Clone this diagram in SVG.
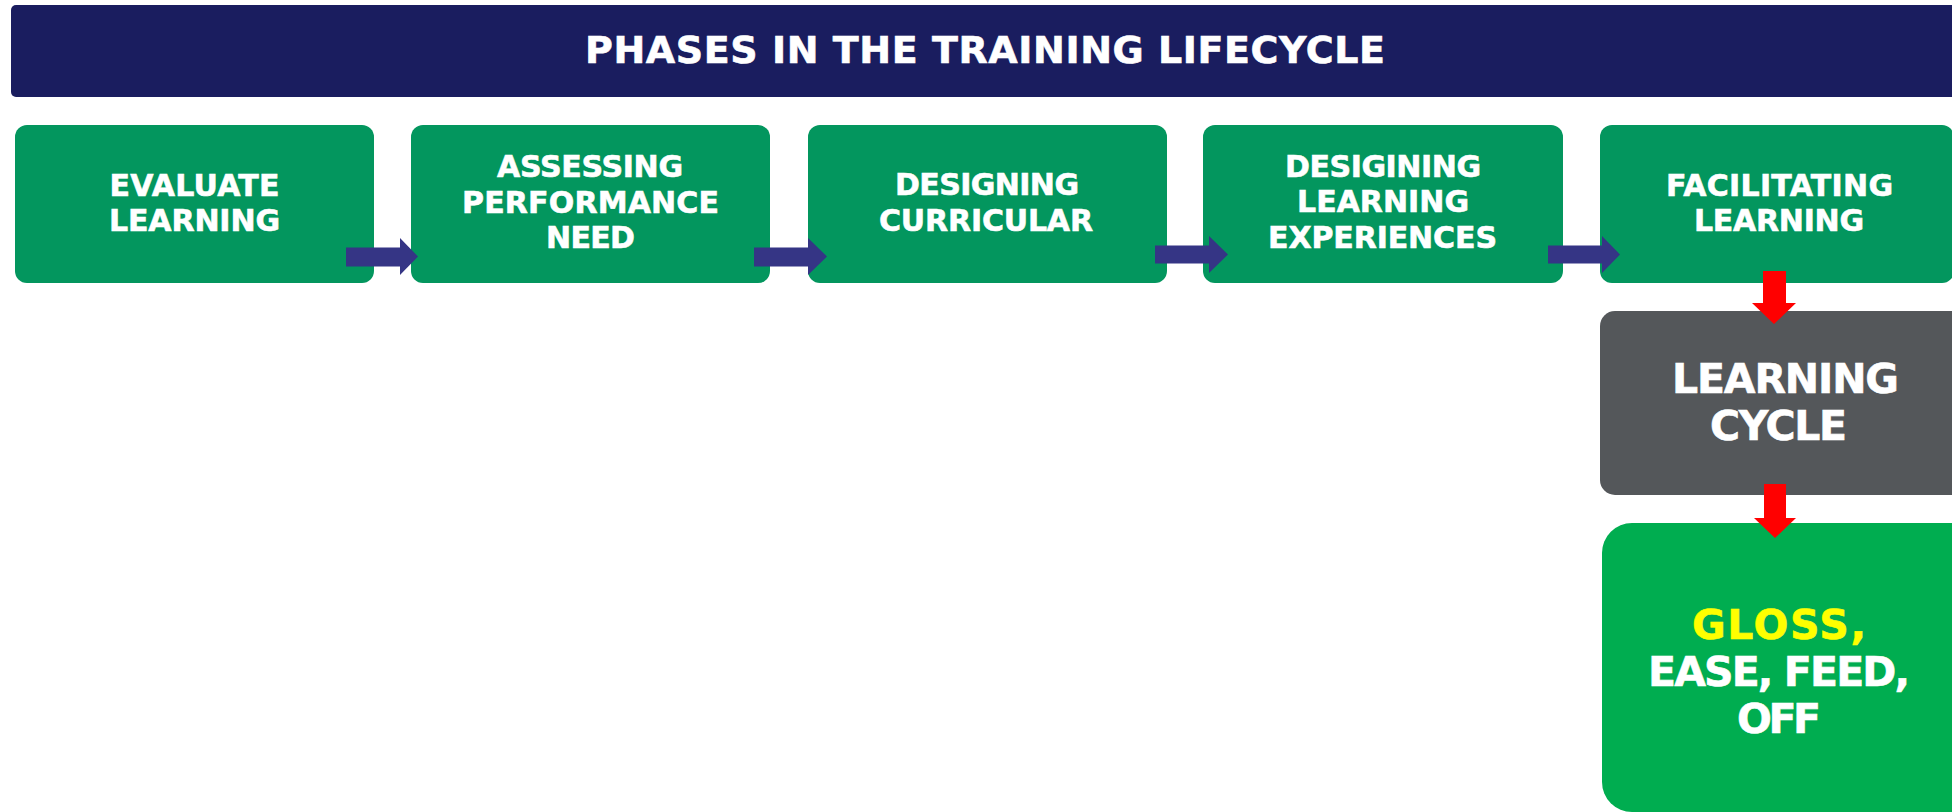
<svg xmlns="http://www.w3.org/2000/svg" width="1952" height="812" viewBox="0 0 1952 812">
  <style>
    .lbl { font-family: "DejaVu Sans", "Liberation Sans", sans-serif; font-weight: bold; fill: #ffffff; stroke: #ffffff; stroke-width: 0.6; text-anchor: middle; }
    .hi { fill: #ffff00; stroke: #ffff00; }
    .phase { fill: #03965e; }
    .step { font-size: 30px; }
    .big { font-size: 41px; }
    .flow { fill: #353585; }
    .down { fill: #ff0000; }
  </style>

  <!-- title banner -->
  <g id="title">
    <rect x="11" y="5" width="1960" height="92" rx="5" fill="#1a1d5f"/>
    <text class="lbl" x="985" y="63" font-size="38" textLength="800">PHASES IN THE TRAINING LIFECYCLE</text>
  </g>

  <!-- phase boxes -->
  <g id="evaluate">
    <rect class="phase" x="15" y="125" width="359" height="158" rx="12"/>
    <text class="lbl step" x="194.5" y="196" textLength="170">EVALUATE</text>
    <text class="lbl step" x="194.5" y="231" textLength="171">LEARNING</text>
  </g>
  <g id="assessing">
    <rect class="phase" x="411" y="125" width="359" height="158" rx="12"/>
    <text class="lbl step" x="590" y="177" textLength="186">ASSESSING</text>
    <text class="lbl step" x="590.5" y="213" textLength="257">PERFORMANCE</text>
    <text class="lbl step" x="590.5" y="248" textLength="89">NEED</text>
  </g>
  <g id="curricular">
    <rect class="phase" x="808" y="125" width="359" height="158" rx="12"/>
    <text class="lbl step" x="987" y="195" textLength="184">DESIGNING</text>
    <text class="lbl step" x="986" y="231" textLength="214">CURRICULAR</text>
  </g>
  <g id="experiences">
    <rect class="phase" x="1203" y="125" width="360" height="158" rx="12"/>
    <text class="lbl step" x="1383" y="177" textLength="196">DESIGINING</text>
    <text class="lbl step" x="1383" y="212" textLength="172">LEARNING</text>
    <text class="lbl step" x="1382.5" y="248" textLength="229">EXPERIENCES</text>
  </g>
  <g id="facilitating">
    <rect class="phase" x="1600" y="125" width="354" height="158" rx="12"/>
    <text class="lbl step" x="1779.5" y="196" textLength="227">FACILITATING</text>
    <text class="lbl step" x="1779" y="231" textLength="170">LEARNING</text>
  </g>
  <g id="cycle">
    <rect x="1600" y="311" width="370" height="184" rx="15" fill="#54575a"/>
    <text class="lbl big" x="1785.5" y="393" textLength="227">LEARNING</text>
    <text class="lbl big" x="1778.5" y="440" textLength="137">CYCLE</text>
  </g>
  <g id="gloss">
    <rect x="1602" y="523" width="380" height="289" rx="30" fill="#00ad50"/>
    <text class="lbl big hi" x="1779" y="639" textLength="174">GLOSS,</text>
    <text class="lbl big" x="1779" y="686" textLength="262">EASE, FEED,</text>
    <text class="lbl big" x="1779" y="733" textLength="84">OFF</text>
  </g>

  <!-- connectors -->
  <g id="connectors">
    <path class="flow" d="M346,247.5 H400 V238 L418,256.5 L400,275 V266.5 H346 Z"/>
    <path class="flow" d="M754,247.5 H808 V238 L827,256.5 L808,275 V266.5 H754 Z"/>
    <path class="flow" d="M1155,245.5 H1209 V236 L1228,254.5 L1209,273 V263.5 H1155 Z"/>
    <path class="flow" d="M1548,245.5 H1602 V236 L1620,254.5 L1602,273 V263.5 H1548 Z"/>
    <path class="down" d="M1763,271 H1786 V303 H1796 L1774,324 L1752,303 H1763 Z"/>
    <path class="down" d="M1764,484 H1786 V518 H1796 L1775,538 L1754,518 H1764 Z"/>
  </g>
</svg>
